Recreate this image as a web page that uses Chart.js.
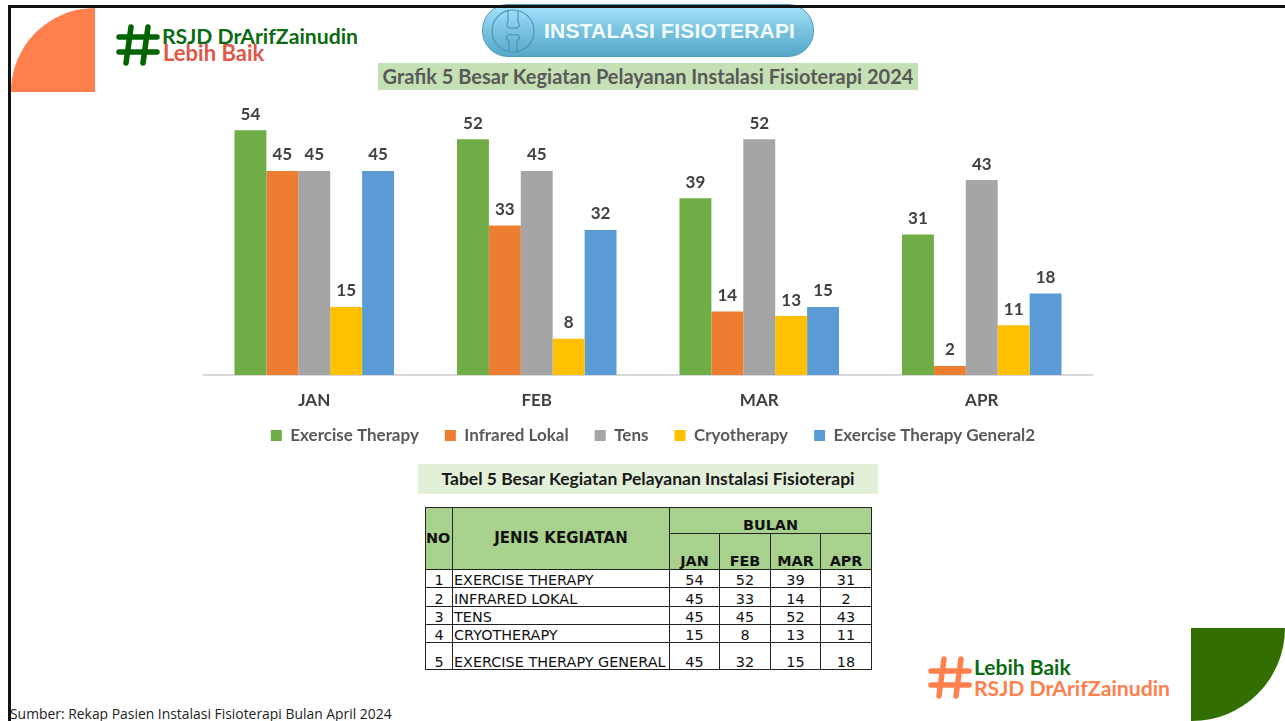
<!DOCTYPE html>
<html><head><meta charset="utf-8">
<script src="https://cdn.jsdelivr.net/npm/chart.js@4"></script>
<style>
html,body{margin:0;padding:0;background:#fff;width:1285px;height:721px;overflow:hidden}
body{position:relative;font-family:Lato,sans-serif}
.a{position:absolute;white-space:nowrap}
#chartBox{position:absolute;left:203px;top:103px;width:890px;height:350px}
table{position:absolute;left:425px;top:507px;border-collapse:collapse;table-layout:fixed;width:446px;font-family:"DejaVu Sans",sans-serif;font-size:14.4px;color:#111}
td,th{border:1px solid #222;padding:0;line-height:1;overflow:hidden;white-space:nowrap}
th{background:#a9d18e;font-weight:bold}
td{text-align:center;vertical-align:bottom}
td.n{text-align:left;padding-left:1px}
</style></head><body>
<div class="a" style="left:11px;top:8px;width:84px;height:84px;background:#ff7f4d;border-top-left-radius:84px"></div>
<div class="a" style="left:1191px;top:628px;width:94px;height:93px;background:#336f00;border-bottom-right-radius:93px"></div>

<svg class="a" style="left:116px;top:24px" width="44" height="42" viewBox="0 0 44 42" fill="none" stroke="#006400" stroke-width="5.5" stroke-linecap="round"><path d="M15 3 10 39M32 3 27 39M3 13H41M3 28H41"/></svg>
<div class="a" style="left:162px;top:24px;font:700 21.2px/24px Lato;color:#0b6a12">RSJD DrArifZainudin</div>
<div class="a" style="left:163px;top:42px;font:700 22px/22px Lato;color:#e0584a">Lebih Baik</div>

<div class="a" style="left:482px;top:4px;width:330px;height:51px;border-radius:26px;border:1px solid #4d9dbd;background:linear-gradient(#a6e4ff,#79c3e0 50%,#56a7c9)"></div>
<svg class="a" style="left:491px;top:8px" width="46" height="46" viewBox="0 0 46 46" fill="none" stroke="#4b95b5" stroke-width="1.2"><circle cx="22" cy="23" r="21"/><path d="M17 3V14C14 18 17 21 22 20 27 21 30 18 27 14V3M18 43V33C14 30 15 25 22 27 29 25 30 30 26 33V43"/></svg>
<div class="a" style="left:544px;top:17px;font:700 21px/28px 'Liberation Sans';color:#f4fcff;letter-spacing:.2px">INSTALASI FISIOTERAPI</div>

<div class="a" style="left:8px;top:5px;width:1277px;height:3px;background:#111"></div>
<div class="a" style="left:8px;top:5px;width:3px;height:716px;background:#111"></div>

<div class="a" style="left:378px;top:63px;width:540px;height:27px;background:#c5e0b4"></div>
<div class="a" style="left:378px;top:63px;width:540px;text-align:center;font:700 20px/27px Lato;color:#595959">Grafik 5 Besar Kegiatan Pelayanan Instalasi Fisioterapi 2024</div>

<div id="chartBox"><canvas id="c"></canvas></div>

<div class="a" style="left:418px;top:464px;width:460px;height:30px;background:#e2efd9;text-align:center;font:700 17.5px/30px Lato;color:#1a1a1a">Tabel 5 Besar Kegiatan Pelayanan Instalasi Fisioterapi</div>

<table id="t"></table>

<svg class="a" style="left:928px;top:656px" width="44" height="43" viewBox="0 0 44 43" fill="none" stroke="#ff7f4d" stroke-width="5.5" stroke-linecap="round"><path d="M16 3 11 40M33 3 28 40M3 15H41M3 29H41"/></svg>
<div class="a" style="left:974px;top:656px;font:700 21px/22px Lato;color:#0b6a12">Lebih Baik</div>
<div class="a" style="left:974px;top:676px;font:700 21.2px/24px Lato;color:#ff7f4d">RSJD DrArifZainudin</div>

<div class="a" style="left:10px;top:705px;font:13.9px/17px 'Open Sans';color:#222">Sumber: Rekap Pasien Instalasi Fisioterapi Bulan April 2024</div>

<script>
const months = ['JAN','FEB','MAR','APR'];
const exerciseTherapy = [54,52,39,31];
const infraredLokal = [45,33,14,2];
const tens = [45,45,52,43];
const cryotherapy = [15,8,13,11];
const exerciseGeneral = [45,32,15,18];
const seriesNames = ['Exercise Therapy','Infrared Lokal','Tens','Cryotherapy','Exercise Therapy General2'];
const tableNames = ['EXERCISE THERAPY','INFRARED LOKAL','TENS','CRYOTHERAPY','EXERCISE THERAPY GENERAL'];
const seriesColors = ['#70ad47','#ed7d31','#a5a5a5','#ffc000','#5b9bd5'];
const seriesValues = [exerciseTherapy,infraredLokal,tens,cryotherapy,exerciseGeneral];

const labelPlugin = {
  id:'valueLabels',
  afterLayout(chart){
    // let the tick labels extend past the reserved axis box; nudge the legend to the right
    chart.scales.x.bottom = chart.scales.x.top + 46;
    chart.legend.left += 5; chart.legend.right += 5;
    chart.legend.top += 1; chart.legend.bottom += 1;
  },
  afterDatasetsDraw(chart){
    const ctx = chart.ctx;
    ctx.save();
    ctx.font = 'bold 17px Lato';
    ctx.fillStyle = '#404040';
    ctx.textAlign = 'center';
    ctx.textBaseline = 'middle';
    chart.data.datasets.forEach((d,i)=>{
      chart.getDatasetMeta(i).data.forEach((bar,j)=>{
        ctx.fillText(String(d.data[j]), bar.x, bar.y-16);
      });
    });
    ctx.restore();
  }
};

new Chart(document.getElementById('c'),{
  type:'bar',
  data:{labels:months,datasets:seriesValues.map((v,i)=>({
    label:seriesNames[i],data:v,backgroundColor:seriesColors[i],
    categoryPercentage:0.717,barPercentage:1,borderWidth:0
  }))},
  options:{
    responsive:true,maintainAspectRatio:false,animation:false,
    layout:{padding:0},
    plugins:{
      tooltip:{enabled:false},
      title:{display:false},
      legend:{display:true,position:'bottom',
        labels:{boxWidth:11,boxHeight:11,padding:26,color:'#595959',font:{family:'Lato',weight:'bold',size:17}}}
    },
    scales:{
      y:{display:false,min:0,max:60},
      x:{
        grid:{display:false,drawTicks:false},
        border:{display:true,color:'#d9d9d9',width:2},
        ticks:{color:'#404040',padding:15,font:{family:'Lato',weight:'bold',size:17}},
        afterFit(s){s.height=25;}
      }
    }
  },
  plugins:[labelPlugin]
});

const t = document.getElementById('t');
const widths=[27,217,50,51,50,51];
let html='<colgroup>'+widths.map(w=>`<col style="width:${w}px">`).join('')+'</colgroup>';
html+=`<tr style="height:26px"><th rowspan="2" style="text-align:left">NO</th><th rowspan="2" style="font-size:15px">JENIS KEGIATAN</th><th colspan="4" style="vertical-align:bottom;padding-bottom:1px">BULAN</th></tr>`;
html+=`<tr style="height:36px">`+months.map(m=>`<th style="vertical-align:bottom;padding-bottom:1px">${m}</th>`).join('')+`</tr>`;
const rowH=[18,19,18,18,27];
tableNames.forEach((n,i)=>{
  html+=`<tr style="height:${rowH[i]}px"><td>${i+1}</td><td class="n">${n}</td>`+seriesValues[i].map(v=>`<td>${v}</td>`).join('')+`</tr>`;
});
t.innerHTML=html;
</script>
</body></html>
